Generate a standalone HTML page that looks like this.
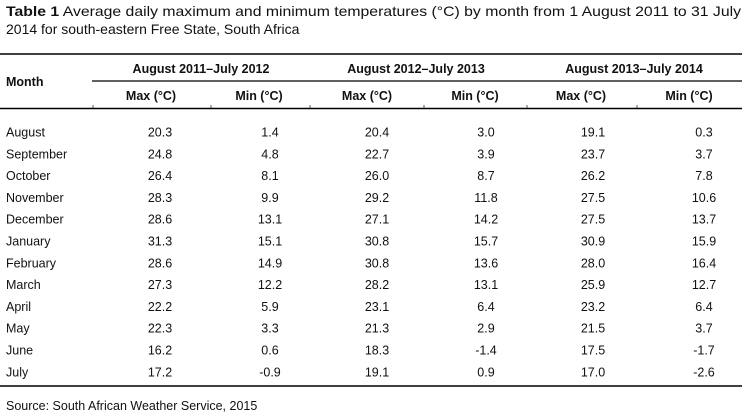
<!DOCTYPE html>
<html><head><meta charset="utf-8"><style>
html,body{margin:0;padding:0;background:#fff}
svg{display:block;font-family:"Liberation Sans",Arial,sans-serif}
</style></head><body>
<svg id="tbl" width="744" height="416" viewBox="0 0 744 416">
<text x="6" y="16" font-size="14" fill="#111" textLength="735" lengthAdjust="spacingAndGlyphs"><tspan font-weight="bold">Table 1</tspan> Average daily maximum and minimum temperatures (°C) by month from 1 August 2011 to 31 July</text>
<text x="6" y="34" font-size="14" fill="#111">2014 for south-eastern Free State, South Africa</text>
<line x1="0" y1="54" x2="742" y2="54" stroke="#000" stroke-width="1.5"/>
<line x1="92" y1="81" x2="742" y2="81" stroke="#000" stroke-width="1.2"/>
<line x1="0" y1="108.5" x2="742" y2="108.5" stroke="#000" stroke-width="1.5"/>
<line x1="0" y1="386" x2="742" y2="386" stroke="#000" stroke-width="1.5"/>
<text x="6" y="86" font-size="12.5" font-weight="bold" fill="#111">Month</text>
<text x="6" y="410" font-size="12.5" fill="#111">Source: South African Weather Service, 2015</text>
<g id="body"></g>
</svg>
<script>
const months=["August","September","October","November","December","January","February","March","April","May","June","July"];
const max1=["20.3","24.8","26.4","28.3","28.6","31.3","28.6","27.3","22.2","22.3","16.2","17.2"];
const min1=["1.4","4.8","8.1","9.9","13.1","15.1","14.9","12.2","5.9","3.3","0.6","-0.9"];
const max2=["20.4","22.7","26.0","29.2","27.1","30.8","30.8","28.2","23.1","21.3","18.3","19.1"];
const min2=["3.0","3.9","8.7","11.8","14.2","15.7","13.6","13.1","6.4","2.9","-1.4","0.9"];
const max3=["19.1","23.7","26.2","27.5","27.5","30.9","28.0","25.9","23.2","21.5","17.5","17.0"];
const min3=["0.3","3.7","7.8","10.6","13.7","15.9","16.4","12.7","6.4","3.7","-1.7","-2.6"];
const groups=["August 2011–July 2012","August 2012–July 2013","August 2013–July 2014"];
const subs=["Max (°C)","Min (°C)","Max (°C)","Min (°C)","Max (°C)","Min (°C)"];
const NS="http://www.w3.org/2000/svg";
const g=document.getElementById('body');
const colX=[160,270,377,486,593,704];
const subX=[151,259,367,475,581,689];
const groupX=[201,416,634];
function t(x,y,s,anchor,bold,name){
  const e=document.createElementNS(NS,'text');
  e.setAttribute('x',x);e.setAttribute('y',y);
  e.setAttribute('font-size','12.5');e.setAttribute('fill','#111');
  e.setAttribute('text-anchor',anchor);
  if(bold)e.setAttribute('font-weight','bold');
  e.textContent=s;
  
  
  g.appendChild(e);
}
groups.forEach((s,i)=>t(groupX[i],73,s,'middle',true,'group-header'));
subs.forEach((s,i)=>t(subX[i],100,s,'middle',true,'column-header'));
[93,211,310,424,527,637].forEach(x=>{
  const l=document.createElementNS(NS,'line');
  l.setAttribute('x1',x);l.setAttribute('x2',x);l.setAttribute('y1',105);l.setAttribute('y2',108);
  l.setAttribute('stroke','#555');
  
  
  g.appendChild(l);
});
const cols=[max1,min1,max2,min2,max3,min3];
months.forEach((m,r)=>{
  const y=136.5+r*21.8;
  t(6,y,m,'start',false,'month-label');
  cols.forEach((c,i)=>t(colX[i],y,c[r],'middle',false,'cell-value'));
});
</script>
</body></html>
